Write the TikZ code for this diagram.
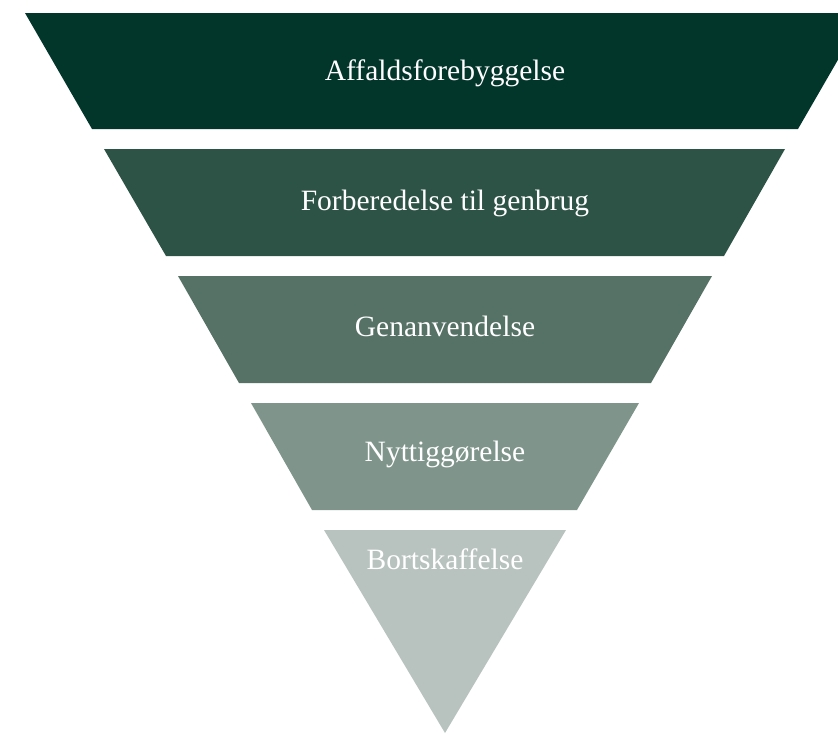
\documentclass[tikz,border=0pt]{standalone}
\usepackage{fontspec}
\setmainfont{Liberation Serif}
\definecolor{cA}{HTML}{03362B}
\definecolor{cB}{HTML}{2D5346}
\definecolor{cC}{HTML}{567166}
\definecolor{cD}{HTML}{7F958C}
\definecolor{cE}{HTML}{B8C3BF}
\begin{document}
\begin{tikzpicture}[x=1pt,y=-1pt,
  lvl/.style={text=white,font=\fontsize{29.5}{32}\selectfont,inner sep=0pt,anchor=base}]
\useasboundingbox (0,0) rectangle (838,734);
\clip (0,0) rectangle (838,734);
\fill[cA] (25,13) -- (865,13) -- (798,129) -- (92,129) -- cycle;
\fill[cB] (104,149) -- (785,149) -- (724,256) -- (166,256) -- cycle;
\fill[cC] (178,276) -- (712,276) -- (651,383) -- (239,383) -- cycle;
\fill[cD] (251,403) -- (639,403) -- (577,510) -- (312,510) -- cycle;
\fill[cE] (324,530) -- (566,530) -- (445,733) -- cycle;
\node[lvl] (t1) at (445,80) {Affaldsforebyggelse};
\node[lvl] (t2) at (445,210) {Forberedelse til genbrug};
\node[lvl] (t3) at (445,336) {Genanvendelse};
\node[lvl] (t4) at (445,461) {Nyttiggørelse};
\node[lvl] (t5) at (445,569) {Bortskaffelse};
\end{tikzpicture}
\end{document}
